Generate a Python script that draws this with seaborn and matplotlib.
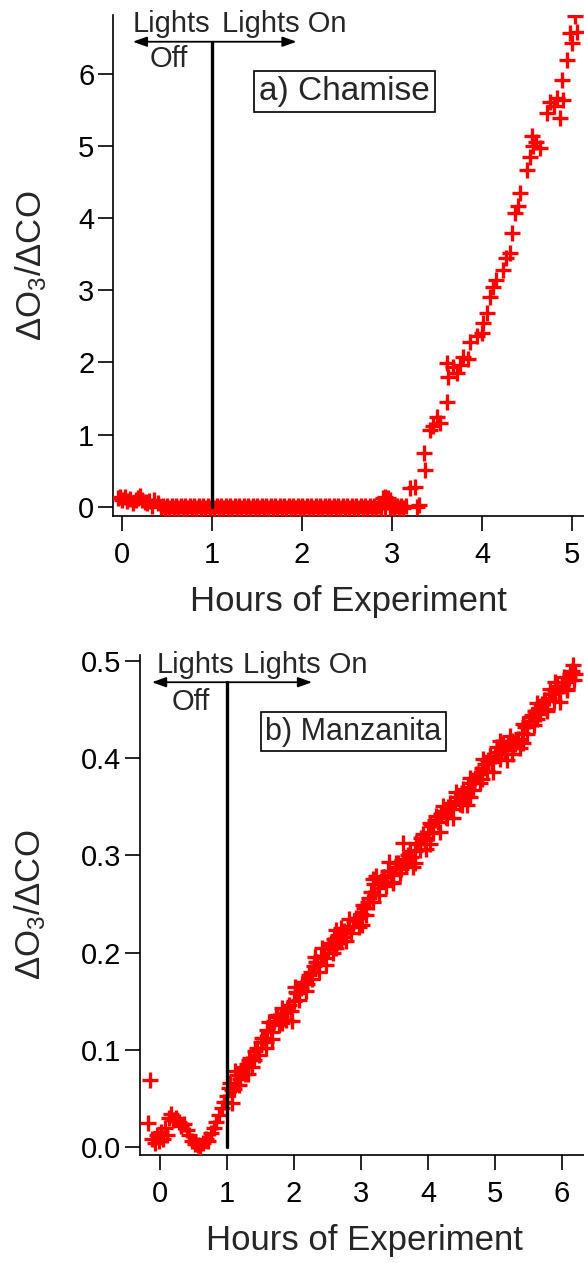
import matplotlib
matplotlib.use("Agg")
import matplotlib.pyplot as plt
import seaborn as sns

# ---------------- data: panel a (Chamise) ----------------
a_early_x = [-0.05, -0.02, 0.0, 0.03, 0.06, 0.09, 0.12, 0.15, 0.18, 0.2, 0.22, 0.25, 0.28, 0.3, 0.33,
             0.36, 0.4, 0.43]
a_early_y = [0.12, 0.14, 0.10, 0.14, 0.08, 0.11, 0.06, 0.09, 0.13, 0.15, 0.10, 0.07, 0.05, 0.08, 0.02,
             0.09, 0.06, 0.0]

a_flat_x = [0.45, 0.475, 0.5, 0.525, 0.55, 0.575, 0.6, 0.625, 0.65, 0.675,
            0.7, 0.725, 0.75, 0.775, 0.8, 0.825, 0.85, 0.875, 0.9, 0.925,
            0.95, 0.975, 1.0, 1.025, 1.05, 1.075, 1.1, 1.125, 1.15, 1.175,
            1.2, 1.225, 1.25, 1.275, 1.3, 1.325, 1.35, 1.375, 1.4, 1.425,
            1.45, 1.475, 1.5, 1.525, 1.55, 1.575, 1.6, 1.625, 1.65, 1.675,
            1.7, 1.725, 1.75, 1.775, 1.8, 1.825, 1.85, 1.875, 1.9, 1.925,
            1.95, 1.975, 2.0, 2.025, 2.05, 2.075, 2.1, 2.125, 2.15, 2.175,
            2.2, 2.225, 2.25, 2.275, 2.3, 2.325, 2.35, 2.375, 2.4, 2.425,
            2.45, 2.475, 2.5, 2.525, 2.55, 2.575, 2.6, 2.625, 2.65, 2.675,
            2.7, 2.725, 2.75, 2.775, 2.8, 2.825, 2.85, 2.875, 2.9, 2.925,
            2.95, 2.975, 3.0, 3.025, 3.05, 3.075, 3.1, 3.125, 3.15]
a_flat_y = [0.015, -0.015, 0.015, -0.015, 0.015, -0.015, 0.015, -0.015, 0.015, -0.015,
            0.015, -0.015, 0.015, -0.015, 0.015, -0.015, 0.015, -0.015, 0.015, -0.015,
            0.015, -0.015, 0.015, -0.015, 0.015, -0.015, 0.015, -0.015, 0.015, -0.015,
            0.015, -0.015, 0.015, -0.015, 0.015, -0.015, 0.015, -0.015, 0.015, -0.015,
            0.015, -0.015, 0.015, -0.015, 0.015, -0.015, 0.015, -0.015, 0.015, -0.015,
            0.015, -0.015, 0.015, -0.015, 0.015, -0.015, 0.015, -0.015, 0.015, -0.015,
            0.015, -0.015, 0.015, -0.015, 0.015, -0.015, 0.015, -0.015, 0.015, -0.015,
            0.015, -0.015, 0.015, -0.015, 0.015, -0.015, 0.015, -0.015, 0.015, -0.015,
            0.015, -0.015, 0.015, -0.015, 0.015, -0.015, 0.015, -0.015, 0.015, -0.015,
            0.015, -0.015, 0.015, -0.015, 0.015, -0.015, 0.015, -0.015, 0.12, -0.015,
            0.13, -0.015, 0.015, -0.015, 0.015, -0.015, 0.015, -0.015, 0.015]

a_rise_x = [2.92, 2.98, 3.2, 3.25, 3.28, 3.3, 3.35, 3.37, 3.42, 3.46, 3.5, 3.53, 3.61, 3.62, 3.61,
            3.68, 3.72, 3.75, 3.79, 3.84, 3.87, 3.94, 4.0, 4.01, 4.05, 4.09, 4.12, 4.16, 4.23, 4.27,
            4.31, 4.33, 4.37, 4.4, 4.42, 4.5, 4.53, 4.57, 4.64, 4.56, 4.6, 4.72, 4.76, 4.83, 4.9,
            4.87, 4.8, 4.89, 4.94, 5.0, 4.98, 5.05, 5.03]
a_rise_y = [0.14, 0.10, 0.26, 0.27, 0.0, 0.03, 0.75, 0.51, 1.07, 1.12, 1.25, 1.16, 1.45, 1.8, 1.99,
            1.94, 1.85, 1.97, 2.08, 2.05, 2.29, 2.36, 2.41, 2.55, 2.68, 2.91, 3.05, 3.14, 3.28, 3.45,
            3.51, 3.79, 4.07, 4.16, 4.35, 4.67, 4.85, 4.99, 4.97, 5.13, 5.05, 5.46, 5.6, 5.66, 5.64,
            5.39, 5.55, 5.91, 6.19, 6.42, 6.56, 6.58, 6.79]

# ---------------- data: panel b (Manzanita) ----------------
b_early_x = [-0.15, -0.18, -0.12, -0.08, -0.05, -0.02, 0.02, 0.05, 0.08, 0.1, 0.13, 0.16, 0.2, 0.24,
             0.28, 0.32, 0.36, 0.4, 0.44, 0.48, 0.52, 0.56, 0.6, 0.64, 0.68, 0.72, 0.76, 0.8, 0.84,
             0.88, 0.92, 0.96]
b_early_y = [0.069, 0.025, 0.008, 0.004, 0.012, 0.006, 0.015, 0.008, 0.020, 0.012, 0.030, 0.034, 0.028,
             0.030, 0.026, 0.022, 0.024, 0.018, 0.012, 0.006, 0.003, 0.002, 0.000, 0.004, 0.008, 0.006,
             0.014, 0.020, 0.026, 0.033, 0.040, 0.046]

b_main_x = [1.00, 1.05, 1.10, 1.15, 1.20, 1.25, 1.30, 1.35, 1.40, 1.45, 1.50, 1.55, 1.60, 1.65, 1.70,
            1.75, 1.80, 1.85, 1.90, 1.95, 2.00, 2.05, 2.10, 2.15, 2.20, 2.25, 2.30, 2.35, 2.40, 2.45,
            2.50, 2.55, 2.60, 2.65, 2.70, 2.75, 2.80, 2.85, 2.90, 2.95, 3.00, 3.05, 3.10, 3.15, 3.20,
            3.25, 3.30, 3.35, 3.40, 3.45, 3.50, 3.55, 3.60, 3.65, 3.70, 3.75, 3.80, 3.85, 3.90, 3.95,
            4.00, 4.05, 4.10, 4.15, 4.20, 4.25, 4.30, 4.35, 4.40, 4.45, 4.50, 4.55, 4.60, 4.65, 4.70,
            4.75, 4.80, 4.85, 4.90, 4.95, 5.00, 5.05, 5.10, 5.15, 5.20, 5.25, 5.30, 5.35, 5.40, 5.45,
            5.50, 5.55, 5.60, 5.65, 5.70, 5.75, 5.80, 5.85, 5.90, 5.95, 6.00, 6.05, 6.10, 6.15, 6.20]
b_main_y = [0.052, 0.066, 0.060, 0.074, 0.070, 0.082, 0.085, 0.092, 0.090, 0.102, 0.108, 0.112, 0.120,
            0.118, 0.130, 0.136, 0.134, 0.138, 0.142, 0.140, 0.150, 0.158, 0.164, 0.170, 0.168, 0.180,
            0.186, 0.190, 0.196, 0.194, 0.204, 0.210, 0.214, 0.218, 0.212, 0.222, 0.226, 0.220, 0.232,
            0.236, 0.240, 0.246, 0.252, 0.262, 0.270, 0.266, 0.274, 0.278, 0.284, 0.280, 0.288, 0.292,
            0.286, 0.296, 0.300, 0.298, 0.304, 0.312, 0.318, 0.316, 0.324, 0.330, 0.336, 0.334, 0.342,
            0.346, 0.350, 0.348, 0.356, 0.360, 0.364, 0.362, 0.370, 0.374, 0.380, 0.384, 0.390, 0.394,
            0.398, 0.396, 0.402, 0.406, 0.410, 0.408, 0.414, 0.418, 0.414, 0.420, 0.426, 0.432, 0.438,
            0.444, 0.448, 0.452, 0.456, 0.460, 0.462, 0.466, 0.470, 0.468, 0.474, 0.478, 0.482, 0.490,
            0.486]

b_main2_x = [1.025, 1.075, 1.125, 1.175, 1.225, 1.275, 1.325, 1.375, 1.425, 1.475, 1.525, 1.575, 1.625,
             1.675, 1.725, 1.775, 1.825, 1.875, 1.925, 1.975, 2.025, 2.075, 2.125, 2.175, 2.225, 2.275,
             2.325, 2.375, 2.425, 2.475, 2.525, 2.575, 2.625, 2.675, 2.725, 2.775, 2.825, 2.875, 2.925,
             2.975, 3.025, 3.075, 3.125, 3.175, 3.225, 3.275, 3.325, 3.375, 3.425, 3.475, 3.525, 3.575,
             3.625, 3.675, 3.725, 3.775, 3.825, 3.875, 3.925, 3.975, 4.025, 4.075, 4.125, 4.175, 4.225,
             4.275, 4.325, 4.375, 4.425, 4.475, 4.525, 4.575, 4.625, 4.675, 4.725, 4.775, 4.825, 4.875,
             4.925, 4.975, 5.025, 5.075, 5.125, 5.175, 5.225, 5.275, 5.325, 5.375, 5.425, 5.475, 5.525,
             5.575, 5.625, 5.675, 5.725, 5.775, 5.825, 5.875, 5.925, 5.975, 6.025, 6.075, 6.125, 6.175]
b_main2_y = [0.061, 0.059, 0.064, 0.064, 0.079, 0.075, 0.089, 0.082, 0.099, 0.095, 0.112, 0.102, 0.129,
             0.111, 0.134, 0.126, 0.143, 0.131, 0.146, 0.130, 0.159, 0.151, 0.168, 0.160, 0.177, 0.173,
             0.190, 0.180, 0.205, 0.187, 0.208, 0.200, 0.223, 0.211, 0.216, 0.212, 0.235, 0.227, 0.236,
             0.226, 0.249, 0.239, 0.256, 0.252, 0.279, 0.259, 0.278, 0.268, 0.293, 0.273, 0.292, 0.282,
             0.295, 0.289, 0.304, 0.288, 0.313, 0.305, 0.322, 0.306, 0.333, 0.323, 0.340, 0.324, 0.351,
             0.339, 0.354, 0.338, 0.365, 0.353, 0.368, 0.352, 0.379, 0.367, 0.384, 0.374, 0.399, 0.387,
             0.402, 0.386, 0.411, 0.399, 0.414, 0.398, 0.423, 0.411, 0.418, 0.410, 0.435, 0.425, 0.442,
             0.434, 0.457, 0.445, 0.460, 0.450, 0.471, 0.459, 0.474, 0.458, 0.483, 0.471, 0.486, 0.480]

b_extra_x = [1.08, 1.12, 1.32, 1.58, 1.82, 2.02, 2.32, 2.62, 2.70, 3.02, 3.18, 3.48, 3.63, 3.80, 4.03,
             4.28, 4.50, 4.62, 4.80, 5.07, 5.25, 5.42, 5.63, 5.78, 5.90, 6.16, 6.08]
b_extra_y = [0.045, 0.078, 0.075, 0.108, 0.128, 0.165, 0.195, 0.205, 0.225, 0.228, 0.276, 0.272, 0.313,
             0.292, 0.312, 0.338, 0.352, 0.360, 0.378, 0.418, 0.404, 0.415, 0.440, 0.448, 0.478, 0.496,
             0.470]

a_xticks = [0, 1, 2, 3, 4, 5]
a_yticks = [0, 1, 2, 3, 4, 5, 6]
b_xticks = [0, 1, 2, 3, 4, 5, 6]
b_yticks = [0.0, 0.1, 0.2, 0.3, 0.4, 0.5]
b_yticklabels = ["0.0", "0.1", "0.2", "0.3", "0.4", "0.5"]

# ---------------- style ----------------
sns.set_theme(style="ticks")
plt.rcParams['font.family'] = ['Liberation Sans', 'DejaVu Sans']
plt.rcParams['mathtext.fontset'] = 'custom'
plt.rcParams['mathtext.rm'] = 'Liberation Sans'
plt.rcParams['mathtext.default'] = 'regular'
plt.rcParams['axes.edgecolor'] = 'black'
plt.rcParams['xtick.color'] = 'black'
plt.rcParams['ytick.color'] = 'black'

TICK_FS = 21
LAB_FS = 25
ANN_FS = 21
RED = '#ff0000'

fig = plt.figure(figsize=(5.84, 12.63), dpi=100)
ax_a = fig.add_axes([113/584, 1 - 516/1263, 471/584, 501/1263])
ax_b = fig.add_axes([140/584, 1 - 1155/1263, 444/584, 500/1263])


def style_axis(ax):
    for s in ['top', 'right']:
        ax.spines[s].set_visible(False)
    for s in ['left', 'bottom']:
        ax.spines[s].set_linewidth(1.2)
        ax.spines[s].set_color('black')
    ax.tick_params(axis='both', direction='out', length=10.5, width=1.2, labelsize=TICK_FS, colors='black')
    ax.tick_params(axis='x', pad=7.5)
    ax.tick_params(axis='y', pad=3)
    ax.grid(False)


def scatter(ax, xs, ys):
    sns.scatterplot(x=xs, y=ys, ax=ax, marker='+', color=RED, s=125, linewidth=2.4, legend=False,
                    zorder=3)


# ---------------- panel a ----------------
scatter(ax_a, a_early_x + a_flat_x + a_rise_x, a_early_y + a_flat_y + a_rise_y)
ax_a.set_xlim(-0.1, 5.133)
ax_a.set_ylim(-0.125, 6.81)
ax_a.set_xticks(a_xticks)
ax_a.set_yticks(a_yticks)
style_axis(ax_a)
ax_a.set_xlabel('Hours of Experiment', fontsize=LAB_FS)
ax_a.set_ylabel('ΔO$_3$/ΔCO', fontsize=LAB_FS)
ax_a.xaxis.set_label_coords(0.499, -0.138)
ax_a.yaxis.set_label_coords(-0.136, 0.5)

ax_a.plot([1, 1], [0, 6.44], color='black', lw=2.4, zorder=4)
ax_a.annotate('', xy=(0.12, 6.44), xytext=(1.94, 6.44),
              arrowprops=dict(arrowstyle='<|-|>,head_length=0.7,head_width=0.25', color='black', lw=1.3,
                              shrinkA=0, shrinkB=0), annotation_clip=False)
ax_a.text(0.12, 6.57, 'Lights', fontsize=ANN_FS, ha='left', va='baseline')
ax_a.text(0.31, 6.09, 'Off', fontsize=ANN_FS, ha='left', va='baseline')
ax_a.text(1.11, 6.57, 'Lights On', fontsize=ANN_FS, ha='left', va='baseline')
ax_a.text(2.47, 5.75, 'a) Chamise', fontsize=24, ha='center', va='center',
          bbox=dict(boxstyle='square,pad=0.15', fc='white', ec='black', lw=1.2))

# ---------------- panel b ----------------
scatter(ax_b, b_early_x + b_main_x + b_main2_x + b_extra_x,
        b_early_y + b_main_y + b_main2_y + b_extra_y)
ax_b.set_xlim(-0.2985, 6.328)
ax_b.set_ylim(-0.0082, 0.506)
ax_b.set_xticks(b_xticks)
ax_b.set_yticks(b_yticks)
ax_b.set_yticklabels(b_yticklabels)
style_axis(ax_b)
ax_b.set_xlabel('Hours of Experiment', fontsize=LAB_FS)
ax_b.set_ylabel('ΔO$_3$/ΔCO', fontsize=LAB_FS)
ax_b.xaxis.set_label_coords(0.5056, -0.138)
ax_b.yaxis.set_label_coords(-0.207, 0.5)

ax_b.plot([1, 1], [0, 0.478], color='black', lw=2.4, zorder=4)
ax_b.annotate('', xy=(-0.12, 0.478), xytext=(2.27, 0.478),
              arrowprops=dict(arrowstyle='<|-|>,head_length=0.7,head_width=0.25', color='black', lw=1.3,
                              shrinkA=0, shrinkB=0), annotation_clip=False)
ax_b.text(-0.045, 0.4877, 'Lights', fontsize=ANN_FS, ha='left', va='baseline')
ax_b.text(0.18, 0.4496, 'Off', fontsize=ANN_FS, ha='left', va='baseline')
ax_b.text(1.24, 0.4877, 'Lights On', fontsize=ANN_FS, ha='left', va='baseline')
ax_b.text(2.89, 0.427, 'b) Manzanita', fontsize=22, ha='center', va='center',
          bbox=dict(boxstyle='square,pad=0.15', fc='white', ec='black', lw=1.2))

fig.savefig('out.png', dpi=100)
